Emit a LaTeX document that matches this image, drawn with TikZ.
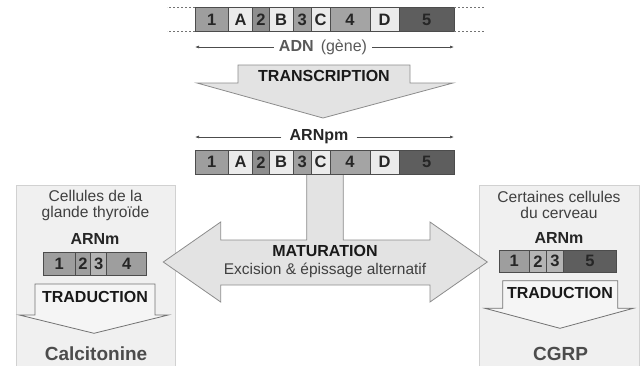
\documentclass[tikz,border=0pt]{standalone}
\usepackage{fontspec}
\setmainfont{Liberation Sans}
\usetikzlibrary{positioning,arrows.meta}
\definecolor{exonone}{HTML}{9E9E9E}
\definecolor{exontwo}{HTML}{8E8E8E}
\definecolor{exonthree}{HTML}{A0A0A0}
\definecolor{exonfour}{HTML}{A4A4A4}
\definecolor{exonfive}{HTML}{5E5E5E}
\definecolor{intron}{HTML}{EBEBEB}
\definecolor{lightexon}{HTML}{B4B4B4}
\tikzset{
  seg/.style={draw=black!70, line width=0.6pt, minimum height=23.5pt, inner sep=0pt,
    outer sep=0pt, font=\bfseries\fontsize{16.5}{17}\selectfont, text=black!85},
  bigarrow/.style={draw=black!45, fill=black!11, line width=0.8pt, line join=miter},
  smallarrow/.style={draw=black!55, fill=black!4, line width=0.8pt, line join=miter},
  cellbox/.style={draw=black!18, fill=black!6, line width=0.8pt},
  dots/.style={draw=black!55, line width=0.7pt, dash pattern=on 2pt off 2pt},
  span/.style={draw=black!70, line width=0.6pt, -{Latex[length=4pt,width=3pt]}},
  boldtext/.style={font=\bfseries\fontsize{16}{17}\selectfont, text=black!90},
  bigname/.style={font=\bfseries\fontsize{19}{20}\selectfont, text=black!70},
}
\begin{document}
\begin{tikzpicture}[x=1pt,y=-1pt,font=\fontsize{15.6}{16}\selectfont]
\useasboundingbox (0,0) rectangle (641,365);
%
% cell boxes
\draw[cellbox] (16,185) rectangle (175,372);
\draw[cellbox] (479,185) rectangle (639,372);
%
% MATURATION arrow
\draw[bigarrow] (306.7,174) -- (343.3,174) -- (343.3,240) -- (430,240) -- (430,222)
  -- (487.3,262) -- (430,302) -- (430,285) -- (220.7,285) -- (220.7,302)
  -- (163.3,262) -- (220.7,222) -- (220.7,240) -- (306.7,240) -- cycle;
\node[boldtext] (mat) at (325,251) {MATURATION};
\node[text=black!75, font=\fontsize{15.5}{16}\selectfont] (excision) at (325,270) {Excision \& épissage alternatif};
%
% ADN
\node[seg, fill=exonone, minimum width=33.3pt, minimum height=24.5pt, anchor=west] (d1) at (195,19.5) {1};
\node[seg, fill=intron, minimum width=24.4pt, minimum height=24.5pt, right=0pt of d1] (dA) {A};
\node[seg, fill=exontwo, minimum width=16.3pt, minimum height=24.5pt, right=0pt of dA] (d2) {2};
\node[seg, fill=intron, minimum width=24.3pt, minimum height=24.5pt, right=0pt of d2] (dB) {B};
\node[seg, fill=exonthree, minimum width=17.7pt, minimum height=24.5pt, right=0pt of dB] (d3) {3};
\node[seg, fill=intron, minimum width=19pt, minimum height=24.5pt, right=0pt of d3] (dC) {C};
\node[seg, fill=exonfour, minimum width=40pt, minimum height=24.5pt, right=0pt of dC] (d4) {4};
\node[seg, fill=intron, minimum width=29.3pt, minimum height=24.5pt, right=0pt of d4] (dD) {D};
\node[seg, fill=exonfive, minimum width=54.7pt, minimum height=24.5pt, right=0pt of dD, text=black!85] (d5) {5};
\draw[dots] (d1.north west) -- ++(-28,0);
\draw[dots] (d1.south west) -- ++(-28,0);
\draw[dots] (d5.north east) -- ++(30,0);
\draw[dots] (d5.south east) -- ++(30,0);
\coordinate (adnL) at (195,47);
\coordinate (adnR) at (454,47);
\node[text=black!65, inner xsep=5pt, font=\fontsize{16}{17}\selectfont] (adn) at (323,47) {\textbf{ADN}\, (gène)};
\draw[span] (adn.west) -- (adnL);
\draw[span] (adn.east) -- (adnR);
%
% TRANSCRIPTION arrow
\draw[bigarrow] (238,65) -- (410,65) -- (410,83) -- (453,83) -- (323,118) -- (197,83) -- (238,83) -- cycle;
\node[boldtext] (transcription) at (324,76) {TRANSCRIPTION};
%
% ARNpm
\coordinate (pmL) at (195,137);
\coordinate (pmR) at (454,137);
\node[boldtext, text=black!85, inner xsep=8pt] (arnpm) at (319,137) {ARNpm};
\draw[span] (arnpm.west) -- (pmL);
\draw[span] (arnpm.east) -- (pmR);
\node[seg, fill=exonone, minimum width=33.3pt, anchor=west] (p1) at (195,162.3) {1};
\node[seg, fill=intron, minimum width=24.4pt, right=0pt of p1] (pA) {A};
\node[seg, fill=exontwo, minimum width=16.3pt, right=0pt of pA] (p2) {2};
\node[seg, fill=intron, minimum width=24.3pt, right=0pt of p2] (pB) {B};
\node[seg, fill=exonthree, minimum width=17.7pt, right=0pt of pB] (p3) {3};
\node[seg, fill=intron, minimum width=19pt, right=0pt of p3] (pC) {C};
\node[seg, fill=exonfour, minimum width=40pt, right=0pt of pC] (p4) {4};
\node[seg, fill=intron, minimum width=29.3pt, right=0pt of p4] (pD) {D};
\node[seg, fill=exonfive, minimum width=54.7pt, right=0pt of pD, text=black!85] (p5) {5};
%
% thyroide
\node[text=black!75, align=center] (thyro) at (95.5,205) {Cellules de la\\glande thyroïde};
\node[boldtext, text=black!85] (arnmL) at (95,239) {ARNm};
\node[seg, fill=exonone, minimum width=31.7pt, minimum height=23pt, anchor=west] (l1) at (43.3,264.2) {1};
\node[seg, fill=exonone, minimum width=15.7pt, minimum height=23pt, right=0pt of l1] (l2) {2};
\node[seg, fill=lightexon, minimum width=16pt, minimum height=23pt, right=0pt of l2] (l3) {3};
\node[seg, fill=exonone, minimum width=40pt, minimum height=23pt, right=0pt of l3] (l4) {4};
\draw[smallarrow] (35,284) -- (155,284) -- (155,315) -- (168.3,315) -- (94,333.3) -- (19.3,315) -- (35,315) -- cycle;
\node[boldtext] (tradL) at (95,297) {TRADUCTION};
\node[bigname] (calci) at (96,354) {Calcitonine};
%
% cerveau
\node[text=black!75, align=center] (cerv) at (559,205) {Certaines cellules\\du cerveau};
\node[boldtext, text=black!85] (arnmR) at (559,238) {ARNm};
\node[seg, fill=exonone, minimum width=30.3pt, minimum height=22.7pt, anchor=west] (r1) at (499,261.3) {1};
\node[seg, fill=lightexon, minimum width=17.4pt, minimum height=22.7pt, right=0pt of r1] (r2) {2};
\node[seg, fill=lightexon, minimum width=16.6pt, minimum height=22.7pt, right=0pt of r2] (r3) {3};
\node[seg, fill=exonfive, minimum width=53.4pt, minimum height=22.7pt, right=0pt of r3, text=black!85] (r5) {5};
\draw[smallarrow] (502.7,280.7) -- (617.7,280.7) -- (617.7,308.3) -- (633.3,308.3) -- (560,328.3) -- (485,308.3) -- (502.7,308.3) -- cycle;
\node[boldtext] (tradR) at (560,293) {TRADUCTION};
\node[bigname] (cgrp) at (560.5,354) {CGRP};
%
\end{tikzpicture}
\end{document}
